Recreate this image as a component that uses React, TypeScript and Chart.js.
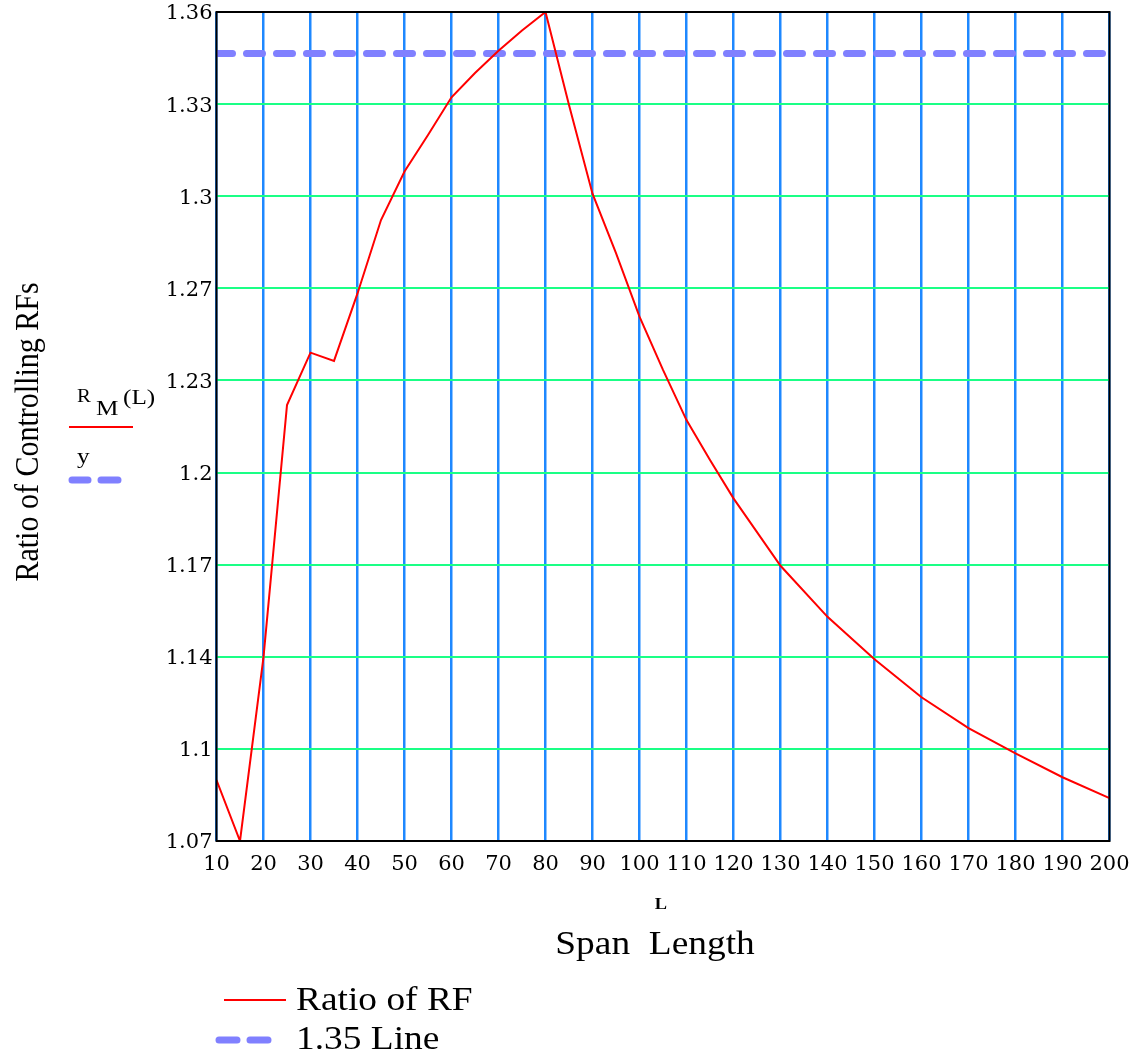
import React, { useEffect, useRef } from "react";
import { Chart, registerables } from "chart.js";

Chart.register(...registerables);

// Span length L (x) and ratio of controlling RFs R_M(L)
const spanLengths = [10, 15, 20, 25, 30, 35, 40, 45, 50, 55, 60, 65, 70, 75, 80, 85, 90, 95, 100, 105, 110, 115, 120, 130, 140, 150, 160, 170, 180, 190, 200];
const ratioRF = [1.0936, 1.0721, 1.137, 1.2259, 1.2444, 1.2415, 1.2653, 1.2912, 1.3083, 1.3212, 1.3345, 1.3431, 1.3509, 1.3581, 1.3646, 1.3318, 1.3005, 1.2795, 1.2571, 1.2383, 1.2206, 1.2065, 1.193, 1.1692, 1.1512, 1.1362, 1.1228, 1.1119, 1.103, 1.0946, 1.0872];

// 1.35 reference line
const refLineX = [10, 200];
const refLineY = [1.35, 1.35];

// Axis settings
const X_MIN = 10;
const X_MAX = 200;
const X_STEP = 10;
const Y_MIN = 1.0721;
const Y_MAX = 1.3646;
const yTickLabels = ["1.07", "1.1", "1.14", "1.17", "1.2", "1.23", "1.27", "1.3", "1.33", "1.36"];

const yAxisTitle = "Ratio of Controlling RFs";
const xAxisTitle = "Span  Length";
const xAxisVar = "L";
const seriesNames = ["Ratio of RF", "1.35 Line"];

const RED = "#ff0000";
const DASH_BLUE = "#8080ff";
const GRID_BLUE = "#1e88ff";
const GRID_GREEN = "#1aff86";
const SERIF = '"Liberation Serif", "Times New Roman", serif';
const TICK_FONT = '"DejaVu Serif", serif';

function stretchedText(ctx: any, text: string, x: number, y: number, sx: number, align: string) {
  ctx.save();
  ctx.translate(x, y);
  ctx.scale(sx, 1);
  ctx.textAlign = align;
  ctx.fillText(text, 0, 0);
  ctx.restore();
}

const decorPlugin = {
  id: "mathcadDecor",
  afterDraw(chart: any) {
    const { ctx, chartArea } = chart;
    ctx.save();
    // plot frame
    ctx.strokeStyle = "#000";
    ctx.lineWidth = 2;
    ctx.strokeRect(chartArea.left, chartArea.top, chartArea.right - chartArea.left, chartArea.bottom - chartArea.top);

    ctx.fillStyle = "#000";
    // y-axis title
    ctx.save();
    ctx.translate(29, 432);
    ctx.scale(1.15, 1);
    ctx.rotate(-Math.PI / 2);
    ctx.font = `30px ${SERIF}`;
    ctx.textAlign = "center";
    ctx.textBaseline = "middle";
    ctx.fillText(yAxisTitle, 0, 0);
    ctx.restore();

    // Mathcad y-axis expressions
    ctx.textBaseline = "alphabetic";
    ctx.font = `18px ${SERIF}`;
    stretchedText(ctx, "R", 77, 402, 1.15, "left");
    ctx.font = `21px ${SERIF}`;
    stretchedText(ctx, "M", 96, 415, 1.2, "left");
    stretchedText(ctx, "(L)", 123, 404, 1.2, "left");
    ctx.strokeStyle = RED;
    ctx.lineWidth = 2;
    ctx.beginPath();
    ctx.moveTo(69, 427);
    ctx.lineTo(133, 427);
    ctx.stroke();
    stretchedText(ctx, "y", 77, 463, 1.2, "left");
    ctx.strokeStyle = DASH_BLUE;
    ctx.lineWidth = 7;
    ctx.lineCap = "round";
    ctx.beginPath();
    ctx.moveTo(72, 480);
    ctx.lineTo(88, 480);
    ctx.moveTo(101, 480);
    ctx.lineTo(118, 480);
    ctx.stroke();
    ctx.lineCap = "butt";

    // x-axis variable and title
    const cx = (chartArea.left + chartArea.right) / 2;
    ctx.font = `bold 16px ${SERIF}`;
    stretchedText(ctx, xAxisVar, cx - 2, 909, 1.15, "center");
    ctx.font = `34px ${SERIF}`;
    ctx.textBaseline = "middle";
    stretchedText(ctx, xAxisTitle, cx - 8, 945, 1.1, "center");

    // legend
    ctx.strokeStyle = RED;
    ctx.lineWidth = 2;
    ctx.beginPath();
    ctx.moveTo(224, 1000);
    ctx.lineTo(286, 1000);
    ctx.stroke();
    ctx.font = `34px ${SERIF}`;
    stretchedText(ctx, seriesNames[0], 296, 1001, 1.1, "left");
    ctx.strokeStyle = DASH_BLUE;
    ctx.lineWidth = 7;
    ctx.lineCap = "round";
    ctx.beginPath();
    ctx.moveTo(219, 1040);
    ctx.lineTo(237, 1040);
    ctx.moveTo(250, 1040);
    ctx.lineTo(268, 1040);
    ctx.stroke();
    ctx.lineCap = "butt";
    stretchedText(ctx, seriesNames[1], 296, 1040, 1.1, "left");
    ctx.restore();
  },
};

export default function App() {
  const canvasRef = useRef<HTMLCanvasElement | null>(null);

  useEffect(() => {
    const canvas = canvasRef.current;
    if (!canvas) return;
    const chart = new Chart(canvas, {
      type: "line",
      data: {
        datasets: [
          {
            label: seriesNames[0],
            data: spanLengths.map((x, i) => ({ x, y: ratioRF[i] })),
            borderColor: RED,
            borderWidth: 2,
            pointRadius: 0,
            tension: 0,
            fill: false,
            order: 1,
          },
          {
            label: seriesNames[1],
            data: refLineX.map((x, i) => ({ x, y: refLineY[i] })),
            borderColor: DASH_BLUE,
            borderWidth: 7,
            borderDash: [16, 14],
            borderCapStyle: "round",
            pointRadius: 0,
            fill: false,
            order: 2,
          },
        ],
      },
      options: {
        responsive: false,
        animation: false,
        devicePixelRatio: 1,
        layout: { padding: { left: 0, top: 12, right: 35.5, bottom: 0 } },
        plugins: {
          legend: { display: false },
          tooltip: { enabled: false },
        },
        scales: {
          x: {
            type: "linear",
            min: X_MIN,
            max: X_MAX,
            border: { display: false },
            grid: { color: GRID_BLUE, lineWidth: 2.5, drawTicks: false },
            ticks: {
              stepSize: X_STEP,
              autoSkip: false,
              maxRotation: 0,
              padding: 11,
              color: "#000",
              font: { family: TICK_FONT, size: 21 },
              callback: (v: any) => String(v),
            },
            afterFit: (scale: any) => {
              scale.height = 214;
              scale.paddingLeft = 0;
              scale.paddingRight = 0;
            },
          },
          y: {
            type: "linear",
            min: Y_MIN,
            max: Y_MAX,
            border: { display: false },
            grid: { color: GRID_GREEN, lineWidth: 2, drawTicks: false },
            afterBuildTicks: (scale: any) => {
              const n = yTickLabels.length;
              scale.ticks = yTickLabels.map((_, i) => ({ value: Y_MIN + (i * (Y_MAX - Y_MIN)) / (n - 1) }));
            },
            ticks: {
              padding: 4,
              labelOffset: 2,
              color: "#000",
              font: { family: TICK_FONT, size: 21 },
              callback: (_v: any, i: number) => yTickLabels[i],
            },
            afterFit: (scale: any) => {
              scale.width = 216.5;
              scale.paddingTop = 0;
              scale.paddingBottom = 0;
            },
          },
        },
      },
      plugins: [decorPlugin],
    });
    return () => chart.destroy();
  }, []);

  return (
    <div style={{ position: "absolute", left: 0, top: 0, width: 1145, height: 1055, background: "#fff" }}>
      <canvas ref={canvasRef} width={1145} height={1055} style={{ display: "block", width: 1145, height: 1055 }} />
    </div>
  );
}
